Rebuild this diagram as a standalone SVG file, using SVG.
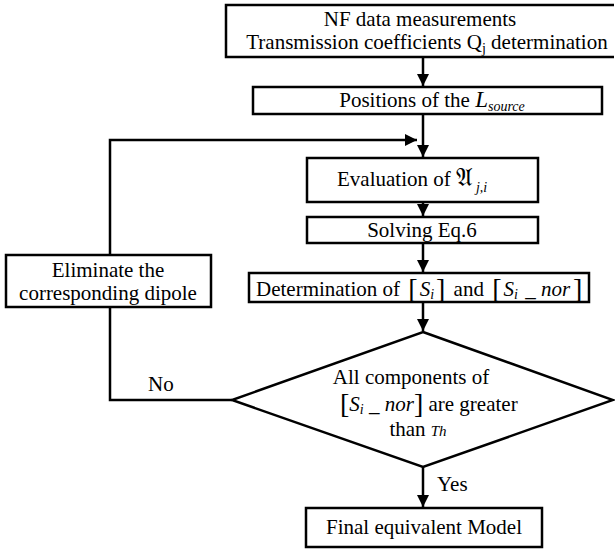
<svg xmlns="http://www.w3.org/2000/svg" width="615" height="550" viewBox="0 0 615 550">
<defs>
<marker id="ah" viewBox="0 0 10 10" refX="10" refY="5" markerWidth="12" markerHeight="12" markerUnits="userSpaceOnUse" orient="auto">
<path d="M0,0 L10,5 L0,10 z" fill="#000"/>
</marker>
</defs>
<style>
.box{fill:#fff;stroke:#000;stroke-width:2.5}
.ln{fill:none;stroke:#000;stroke-width:2.5}
.t{font-size:21px;fill:#000}
.m{text-anchor:middle}
.i{font-style:italic}
.sub{font-size:14px}
.br{font-size:28px}
</style>
<rect width="615" height="550" fill="#fff"/>
<g font-family="'Liberation Serif', 'DejaVu Serif', serif">
<g id="connectors">
<line class="ln" x1="423" y1="58" x2="423" y2="86" marker-end="url(#ah)"/>
<line class="ln" x1="423" y1="114" x2="423" y2="157" marker-end="url(#ah)"/>
<line class="ln" x1="423" y1="202" x2="423" y2="216" marker-end="url(#ah)"/>
<line class="ln" x1="423" y1="243" x2="423" y2="272" marker-end="url(#ah)"/>
<line class="ln" x1="423" y1="302" x2="423" y2="331" marker-end="url(#ah)"/>
<line class="ln" x1="423" y1="467" x2="423" y2="507" marker-end="url(#ah)"/>
<polyline class="ln" points="232,400 110,400 110,307"/>
<polyline class="ln" points="110,255 110,140 417,140" marker-end="url(#ah)"/>
<text class="t" x="148" y="391">No</text>
<text class="t" x="437" y="491">Yes</text>
</g>
<g id="n-measure">
<path class="ln" d="M614,5 H226 V57 H614"/>
<text class="t m" x="420" y="26">NF data measurements</text>
<text class="t m" x="427" y="49">Transmission coefficients Q<tspan class="sub" dy="4">j</tspan><tspan dy="-4"> determination</tspan></text>
</g>
<g id="n-positions">
<rect class="box" x="253" y="87" width="349" height="27"/>
<text class="t m" x="432" y="107">Positions of the <tspan class="i" font-size="23">L</tspan><tspan class="i sub" dy="4">source</tspan></text>
</g>
<g id="n-eval">
<rect class="box" x="307" y="158" width="231" height="44"/>
<text class="t" x="337" y="186">Evaluation of <tspan font-family="'DejaVu Serif','DejaVu Sans',serif" font-size="25">𝔄</tspan><tspan class="i sub" dx="3" dy="6">j,i</tspan></text>
</g>
<g id="n-solve">
<rect class="box" x="307" y="217" width="231" height="26"/>
<text class="t m" x="422" y="237">Solving Eq.6</text>
</g>
<g id="n-determ">
<rect class="box" x="249" y="273" width="340" height="29"/>
<text class="t" x="256" y="296">Determination of <tspan class="br" dx="3" dy="2">[</tspan><tspan class="i" dx="2" dy="-2">S</tspan><tspan class="i sub" dy="3">i</tspan><tspan class="br" dx="2" dy="-1">]</tspan><tspan dx="3" dy="-2"> and </tspan><tspan class="br" dx="3" dy="2">[</tspan><tspan class="i" dx="2" dy="-2">S</tspan><tspan class="i sub" dy="3">i</tspan><tspan class="i" dx="2" dy="-3"> _ nor</tspan><tspan class="br" dx="3" dy="2">]</tspan></text>
</g>
<g id="n-decision">
<polygon class="box" points="423,332 613,400 423,467 232,400"/>
<text class="t m" x="411" y="384">All components of</text>
<text class="t" x="340" y="411"><tspan class="br" dy="2">[</tspan><tspan class="i" dy="-2">S</tspan><tspan class="i sub" dy="3">i</tspan><tspan class="i" dy="-3"> _ nor</tspan><tspan class="br" dy="2">]</tspan><tspan dy="-2"> are greater</tspan></text>
<text class="t m" x="418" y="436">than <tspan class="i" font-size="15">Th</tspan></text>
</g>
<g id="n-eliminate">
<rect class="box" x="6" y="255" width="205" height="52"/>
<text class="t m" x="108" y="277">Eliminate the</text>
<text class="t m" x="108" y="300">corresponding dipole</text>
</g>
<g id="n-final">
<rect class="box" x="306" y="508" width="236" height="39"/>
<text class="t m" x="424" y="534">Final equivalent Model</text>
</g>
</g>
</svg>
